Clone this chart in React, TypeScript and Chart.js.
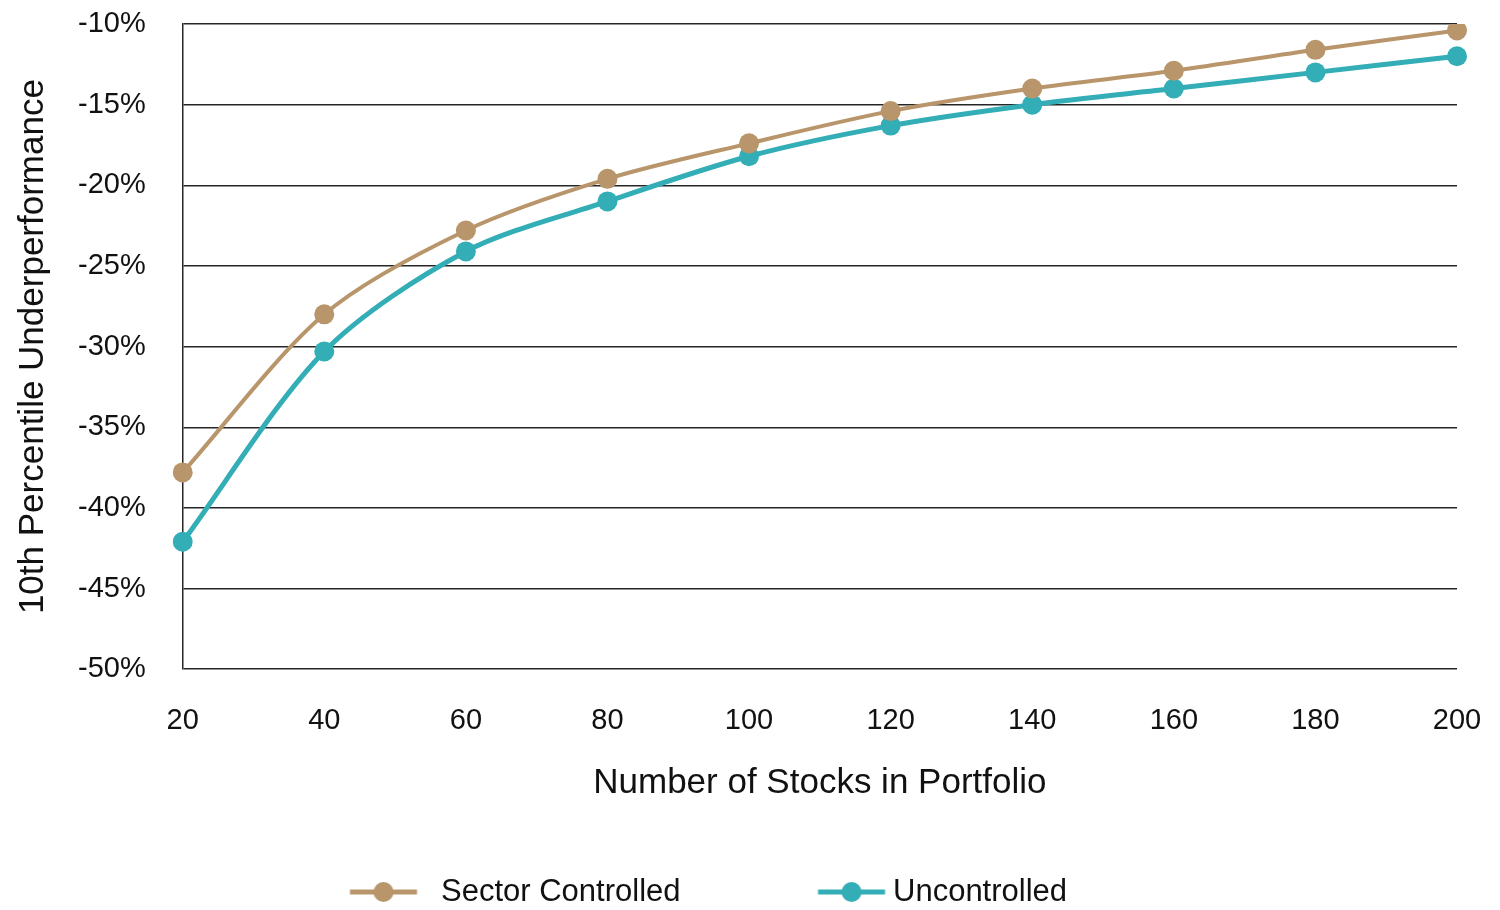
import { useEffect, useRef } from 'react'
import { Chart, registerables } from 'chart.js'

Chart.register(...registerables)

const stockCounts = ['20', '40', '60', '80', '100', '120', '140', '160', '180', '200']
const sectorControlled = [-37.8, -28.0, -22.8, -19.6, -17.4, -15.4, -14.0, -12.9, -11.6, -10.4]
const uncontrolled = [-42.1, -30.3, -24.1, -21.0, -18.2, -16.3, -15.0, -14.0, -13.0, -12.0]
const yTicks = [-10, -15, -20, -25, -30, -35, -40, -45, -50]

const TAN = '#B8956A'
const TEAL = '#33AEB6'
const FONT = 'Liberation Sans'
const INK = '#111'
const GRID = '#262626'

// legend box is wide and empty, the swatch sits near its right end
const BOX_W = 187
const MARGIN = 40

// legend swatch: short line with a dot in the middle, `endOffset` from the box end
function swatch(color: string, endOffset: number) {
  const c = document.createElement('canvas')
  c.width = BOX_W + MARGIN * 2
  c.height = 22
  const ctx = c.getContext('2d')!
  const x1 = MARGIN + BOX_W + endOffset
  const x0 = x1 - 67
  ctx.strokeStyle = color
  ctx.lineWidth = 5
  ctx.beginPath()
  ctx.moveTo(x0, 11)
  ctx.lineTo(x1, 11)
  ctx.stroke()
  ctx.fillStyle = color
  ctx.beginPath()
  ctx.arc((x0 + x1) / 2, 11, 10, 0, Math.PI * 2)
  ctx.fill()
  return c
}

export default function App() {
  const chartRef = useRef<HTMLCanvasElement>(null)
  const chartInstance = useRef<Chart | null>(null)

  useEffect(() => {
    document.body.style.margin = '0'
    if (chartInstance.current) chartInstance.current.destroy()

    const ctx = chartRef.current!.getContext('2d')!
    const styles = [swatch(TAN, -8.5), swatch(TEAL, 7.5)]

    chartInstance.current = new Chart(ctx, {
      type: 'line',
      data: {
        labels: stockCounts,
        datasets: [
          {
            label: 'Sector Controlled',
            data: sectorControlled,
            borderColor: TAN,
            backgroundColor: TAN,
            borderWidth: 4,
            pointRadius: 10,
            pointBorderWidth: 0,
            pointBackgroundColor: TAN,
            tension: 0.3,
          },
          {
            label: 'Uncontrolled',
            data: uncontrolled,
            borderColor: TEAL,
            backgroundColor: TEAL,
            borderWidth: 5,
            pointRadius: 10,
            pointBorderWidth: 0,
            pointBackgroundColor: TEAL,
            tension: 0.3,
          },
        ],
      },
      options: {
        animation: false,
        responsive: true,
        maintainAspectRatio: false,
        layout: {
          padding: { top: 24, right: 43, bottom: 0, left: 0 },
        },
        scales: {
          x: {
            offset: false,
            grid: {
              color: 'transparent',
              drawOnChartArea: false,
              drawTicks: true,
              tickLength: 34,
              tickColor: 'transparent',
            },
            border: { display: false },
            ticks: {
              color: INK,
              padding: 0,
              maxRotation: 0,
              autoSkip: false,
              font: { family: FONT, size: 29 },
            },
            title: {
              display: true,
              text: 'Number of Stocks in Portfolio',
              color: INK,
              padding: { top: 24, bottom: 55 },
              font: { family: FONT, size: 35 },
            },
          },
          y: {
            min: -50,
            max: -10,
            afterBuildTicks: (axis) => {
              axis.ticks = yTicks.map((v) => ({ value: v }))
            },
            grid: {
              color: GRID,
              lineWidth: 1.5,
              drawTicks: true,
              tickLength: 37,
              tickColor: 'transparent',
            },
            border: { display: true, color: GRID, width: 1.5 },
            ticks: {
              color: INK,
              padding: 0,
              font: { family: FONT, size: 29 },
              callback: (v) => `${v}%`,
            },
            title: {
              display: true,
              text: '10th Percentile Underperformance',
              color: INK,
              padding: { top: 12, bottom: 24 },
              font: { family: FONT, size: 35 },
            },
          },
        },
        plugins: {
          legend: {
            position: 'bottom',
            align: 'start',
            labels: {
              color: INK,
              usePointStyle: true,
              pointStyleWidth: BOX_W,
              padding: 10,
              font: { family: FONT, size: 31 },
              generateLabels: (chart) =>
                chart.data.datasets.map((ds, i) => ({
                  text: ds.label as string,
                  fillStyle: ds.borderColor as string,
                  strokeStyle: ds.borderColor as string,
                  lineWidth: 0,
                  pointStyle: styles[i],
                  fontColor: INK,
                  datasetIndex: i,
                  hidden: false,
                })),
            },
          },
          tooltip: { enabled: false },
        },
      },
      plugins: [
        {
          id: 'legendPlace',
          afterLayout: (chart) => {
            const lg = chart.legend as any
            if (!lg) return
            const w = lg.right - lg.left
            lg.left = 228.5
            lg.right = lg.left + w
            lg.top += 7.5
            lg.bottom += 7.5
          },
        },
      ],
    })

    return () => {
      if (chartInstance.current) {
        chartInstance.current.destroy()
        chartInstance.current = null
      }
    }
  }, [])

  return (
    <div style={{ width: 1500, height: 910, background: '#fff' }}>
      <canvas ref={chartRef} />
    </div>
  )
}
